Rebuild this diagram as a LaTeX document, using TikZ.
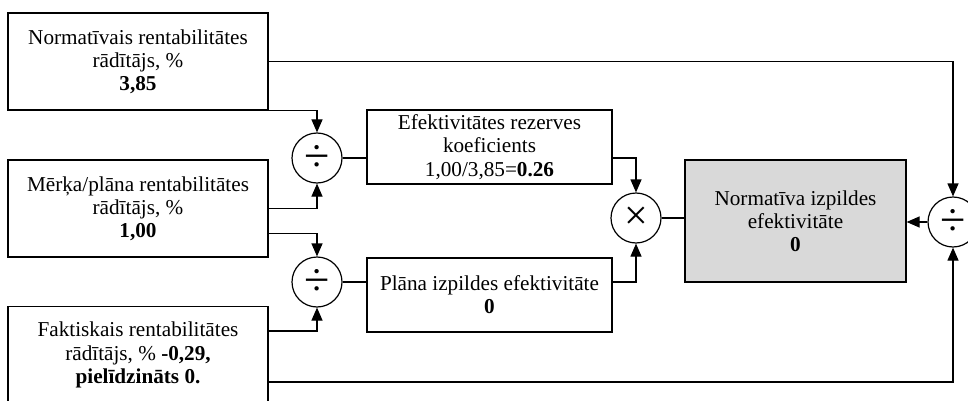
\documentclass[tikz,border=0pt]{standalone}
\usepackage{fontspec}
\setmainfont{Liberation Serif}
\usetikzlibrary{arrows.meta}
\definecolor{boxgray}{RGB}{217,217,217}
\tikzset{
	rectnode/.style={rectangle, draw, line width=0.6pt, inner sep=0pt, align=center, font=\fontsize{10.6}{11.6}\selectfont},
	opnode/.style={circle, draw, line width=0.6pt, inner sep=0pt, minimum size=25pt, font=\fontsize{23}{23}\selectfont},
	conn/.style={line width=0.6pt},
	arr/.style={conn, -{Triangle[length=6.5pt,width=5.5pt]}}
}

\begin{document}
\begin{tikzpicture}[x=0.5pt, y=-0.5pt]
	\useasboundingbox (0,0) rectangle (968,401);
	
	\node[rectnode, minimum width=130pt, minimum height=48.5pt] at (138,61.5) (NR) {Normatīvais rentabilitātes\\rādītājs, \%\\\textbf{3,85}};
	\node[rectnode, minimum width=130pt, minimum height=48.5pt] at (138,208.5) (MR) {Mērķa/plāna rentabilitātes\\rādītājs, \%\\\textbf{1,00}};
	\node[rectnode, minimum width=130pt, minimum height=48.5pt] at (138,355) (FR) {Faktiskais rentabilitātes\\rādītājs, \% \textbf{-0,29,}\\\textbf{pielīdzināts 0.}};
	
	\node[rectnode, minimum width=122.5pt, minimum height=37pt] at (489.5,147) (ERK) {Efektivitātes rezerves\\koeficients\\1,00/3,85=\textbf{0.26}};
	\node[rectnode, minimum width=122.5pt, minimum height=37pt] at (489.5,295) (PIE) {Plāna izpildes efektivitāte\\\textbf{0}};
	\node[rectnode, fill=boxgray, minimum width=110.5pt, minimum height=61pt] at (795.5,221) (NIE) {Normatīva izpildes\\efektivitāte\\\textbf{0}};
	
	\node[opnode] at (317,158) (D1) {÷};
	\node[opnode] at (317,282) (D2) {÷};
	\node[opnode, font=\fontsize{21}{21}\selectfont] at (636,218) (MUL) {×};
	\node[opnode] at (953,222) (D3) {÷};
	
	% inputs to the dividers
	\draw[arr] (NR.east) -| (D3.north);
	\draw[arr] (NR.south east) -| (D1.north);
	\draw[arr] (MR.east) -| (D1.south);
	\draw[arr] ([yshift=-12.5pt]MR.east) -| (D2.north);
	\draw[arr] ([yshift=12pt]FR.east) -| (D2.south);
	\draw[arr] ([yshift=-13.5pt]FR.east) -| (D3.south);
	
	% results
	\draw[conn] (D1.east) -- (D1.east -| ERK.west);
	\draw[conn] (D2.east) -- (D2.east -| PIE.west);
	\draw[arr] ([yshift=-5.5pt]ERK.east) -| (MUL.north);
	\draw[arr] ([yshift=6.5pt]PIE.east) -| (MUL.south);
	\draw[conn] (MUL.east) -- (MUL.east -| NIE.west);
	\draw[arr] (D3.west) -- (D3.west -| NIE.east);
\end{tikzpicture}
\end{document}
